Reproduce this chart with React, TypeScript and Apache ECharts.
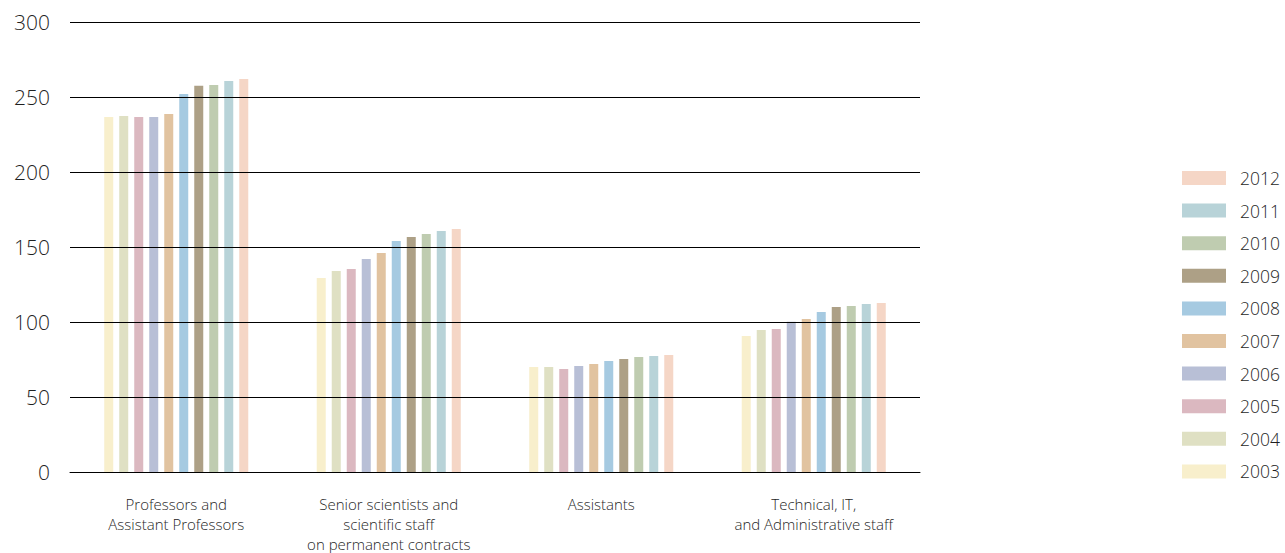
import React, { useEffect, useRef } from "react";
import * as echarts from "echarts";

const categories = [
  "Professors and\nAssistant Professors",
  "Senior scientists and\nscientific staff\non permanent contracts",
  "Assistants",
  "Technical, IT,\nand Administrative staff",
];
const years = ["2003", "2004", "2005", "2006", "2007", "2008", "2009", "2010", "2011", "2012"];
const colors = ["#F8EFCC", "#DFE0C3", "#DBB8C0", "#B8BFD6", "#E1C3A0", "#A6CAE1", "#ADA086", "#BFCCB0", "#B8D3D8", "#F5D6C6"];
const values: number[][] = [
  [236.7, 129.3, 70, 90.7],
  [237.3, 134, 70, 94.7],
  [236.7, 135.3, 68.7, 95.3],
  [236.7, 142, 70.7, 100.2],
  [238.7, 146, 72, 102],
  [252, 154, 74, 106.7],
  [257.5, 156.7, 75.3, 110],
  [258, 158.7, 76.7, 110.7],
  [260.7, 160.7, 77.3, 112],
  [262, 162, 78, 112.7],
];
const yTicks = { min: 0, max: 300, interval: 50 };

const FONT = "'Open Sans', sans-serif";
const TEXT = "#1f1f1f";

export default function App() {
  const ref = useRef<HTMLDivElement>(null);
  useEffect(() => {
    if (!ref.current) return;
    const chart = echarts.init(ref.current, undefined, { renderer: "svg" });
    chart.setOption({
      animation: false,
      grid: { left: 70, right: 365, top: 22, bottom: 81, containLabel: false, outerBoundsMode: "none" },
      legend: {
        orient: "vertical",
        left: 1182,
        top: 169,
        padding: 0,
        itemWidth: 44,
        itemHeight: 14,
        itemGap: 14.6,
        icon: "rect",
        data: [...years].reverse(),
        textStyle: {
          fontFamily: FONT,
          fontSize: 17.5,
          color: TEXT,
          fontWeight: 300,
          padding: [0, 0, 0, 9],
        },
      },
      xAxis: {
        type: "category",
        data: categories,
        axisLine: { lineStyle: { color: "#000", width: 1 } },
        axisTick: { show: false },
        axisLabel: {
          interval: 0,
          margin: 22,
          fontFamily: FONT,
          fontSize: 15,
          lineHeight: 20,
          color: TEXT,
          fontWeight: 300,
        },
        z: 5,
      },
      yAxis: {
        type: "value",
        min: yTicks.min,
        max: yTicks.max,
        interval: yTicks.interval,
        axisLine: { show: false },
        axisTick: { show: false },
        axisLabel: { margin: 20, fontFamily: FONT, fontSize: 21, color: TEXT, fontWeight: 300 },
        splitLine: { lineStyle: { color: "#000", width: 1 } },
        z: 5,
      },
      series: years.map((y, i) => ({
        name: y,
        type: "bar",
        data: values[i],
        barWidth: 9,
        barGap: "66.7%",
        itemStyle: { color: colors[i] },
      })),
    });
    return () => chart.dispose();
  }, []);
  return <div ref={ref} style={{ width: 1285, height: 553, position: "absolute", left: 0, top: 0 }} />;
}
